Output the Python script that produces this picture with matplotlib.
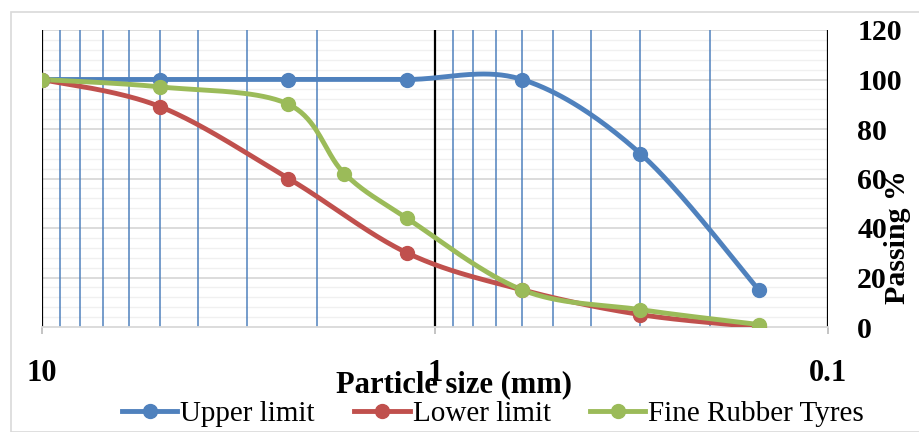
import numpy as np
import matplotlib
matplotlib.use("Agg")
import matplotlib.pyplot as plt
from matplotlib.patches import Rectangle

plt.rcParams['font.family'] = ['Liberation Serif', 'DejaVu Serif']

sizes_limits = [10, 5, 2.36, 1.18, 0.6, 0.3, 0.15]
upper_limit = [100, 100, 100, 100, 100, 70, 15]
lower_limit = [100, 89, 60, 30, 15, 5, 0]
sizes_rubber = [10, 5, 2.36, 1.7, 1.18, 0.6, 0.3, 0.15]
fine_rubber = [100, 97, 90, 62, 44, 15, 7, 1]

series = [
    ("Upper limit", sizes_limits, upper_limit, "#4F81BD"),
    ("Lower limit", sizes_limits, lower_limit, "#C0504D"),
    ("Fine Rubber Tyres", sizes_rubber, fine_rubber, "#9BBB59"),
]

def smooth(xs, ys, n=40):
    # Catmull-Rom (Excel-like) smoothing in (log10 x, y) space
    lx = np.log10(np.array(xs, float))
    y = np.array(ys, float)
    P = np.column_stack([lx, y])
    out = []
    m = len(P)
    for i in range(m - 1):
        p0 = P[i - 1] if i > 0 else P[i]
        p1 = P[i]
        p2 = P[i + 1]
        p3 = P[i + 2] if i + 2 < m else P[i + 1]
        c1 = p1 + (p2 - p0) / 6.0
        c2 = p2 - (p3 - p1) / 6.0
        t = np.linspace(0, 1, n)[:, None]
        b = ((1 - t) ** 3) * p1 + 3 * ((1 - t) ** 2) * t * c1 + 3 * (1 - t) * t ** 2 * c2 + t ** 3 * p2
        out.append(b if i == 0 else b[1:])
    out = np.vstack(out)
    return 10 ** out[:, 0], out[:, 1]

fig = plt.figure(figsize=(9.2, 4.32), dpi=100)
fig.patches.append(Rectangle((11 / 920, 0), 1, 1 - 12 / 432, transform=fig.transFigure,
                             fill=False, edgecolor="#D9D9D9", linewidth=1.2))
ax = fig.add_axes([42 / 920, 1 - 327 / 432, (828 - 42) / 920, (327 - 30) / 432])

ax.set_xscale('log')
ax.set_xlim(10, 0.1)
ax.set_ylim(0, 120)

# horizontal gridlines
for v in np.arange(4, 121, 4):
    major = (v % 20 == 0)
    ax.axhline(v, color="#D9D9D9" if major else "#F0F0F0", linewidth=1.3 if major else 1.0, zorder=0)

# vertical log gridlines
for dec in [1, 0.1]:
    for k in range(2, 10):
        ax.axvline(dec * k, color="#4F81BD", linewidth=1.1, zorder=1)
for v in [10, 1, 0.1]:
    ax.axvline(v, color="black", linewidth=1.6, zorder=1)

for name, xs, ys, col in series:
    sx, sy = smooth(xs, ys)
    ax.plot(sx, sy, color=col, linewidth=3.5, zorder=3, solid_capstyle='round')
    ax.plot(xs, ys, linestyle='none', marker='o', markersize=10, color=col, zorder=4)
    ax.plot([], [], color=col, linewidth=3.5, marker='o', markersize=10, label=name)

for s in ['left', 'top', 'right']:
    ax.spines[s].set_visible(False)
ax.spines['bottom'].set_color("#D9D9D9")
ax.spines['bottom'].set_linewidth(1.3)

ax.yaxis.tick_right()
ax.set_yticks(np.arange(0, 121, 20))
ax.tick_params(axis='y', length=0, pad=21, labelsize=21.5)
for lab in ax.get_yticklabels():
    lab.set_fontweight('bold')

ax.set_xticks([10, 1, 0.1])
ax.set_xticklabels(["10", "1", "0.1"])
ax.xaxis.set_minor_locator(matplotlib.ticker.NullLocator())
ax.tick_params(axis='x', length=5, color="#BFBFBF", width=1.3, pad=18, labelsize=22)
for lab in ax.get_xticklabels():
    lab.set_fontweight('bold')

fig.text(454 / 920, 1 - 385 / 432, "Particle size (mm)", fontsize=22, fontweight='bold',
         ha='center', va='center')
fig.text(898 / 920, 1 - 237 / 432, "Passing %", fontsize=21.5, fontweight='bold',
         ha='center', va='center', rotation=90)

fig.legend(loc='center', bbox_to_anchor=(493 / 920, 1 - 414 / 432), ncol=3, frameon=False,
           fontsize=21, handlelength=1.9, columnspacing=1.35, handletextpad=0.1,
           borderaxespad=0, borderpad=0)

fig.savefig("out.png", dpi=100)
